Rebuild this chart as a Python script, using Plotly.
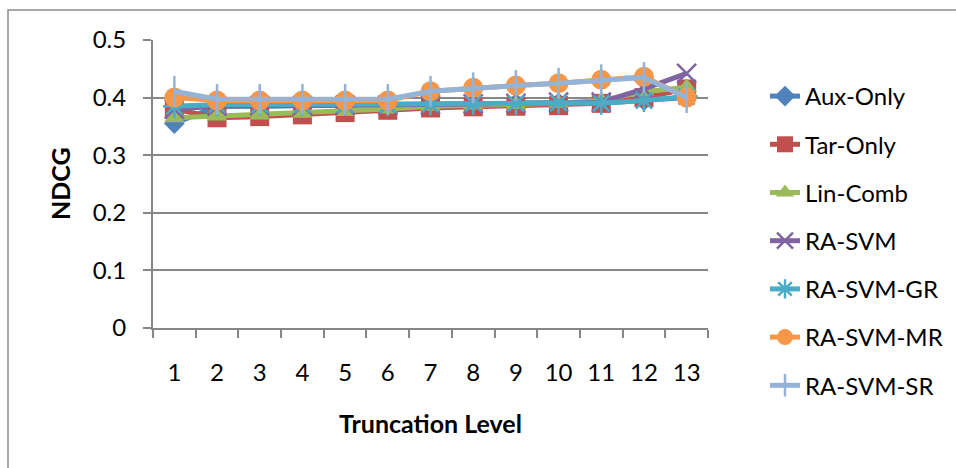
import plotly.graph_objects as go

levels = [str(i) for i in range(1, 14)]
aux_only = [0.355, 0.385, 0.385, 0.386, 0.386, 0.387, 0.388, 0.389, 0.390, 0.391, 0.390, 0.395, 0.400]
tar_only = [0.380, 0.365, 0.367, 0.370, 0.374, 0.378, 0.382, 0.384, 0.385, 0.386, 0.390, 0.400, 0.415]
lin_comb = [0.365, 0.368, 0.370, 0.373, 0.376, 0.380, 0.385, 0.387, 0.388, 0.390, 0.395, 0.410, 0.418]
ra_svm = [0.380, 0.385, 0.386, 0.386, 0.387, 0.387, 0.388, 0.389, 0.390, 0.392, 0.392, 0.415, 0.442]
ra_svm_gr = [0.385, 0.388, 0.388, 0.388, 0.388, 0.388, 0.389, 0.390, 0.390, 0.391, 0.390, 0.395, 0.402]
ra_svm_mr = [0.400, 0.395, 0.395, 0.395, 0.395, 0.395, 0.411, 0.417, 0.421, 0.425, 0.431, 0.436, 0.400]
ra_svm_sr = [0.411, 0.397, 0.397, 0.397, 0.397, 0.397, 0.411, 0.417, 0.421, 0.425, 0.431, 0.435, 0.400]

series = [
    ("Aux-Only", aux_only, "#4F81BD", "diamond", 16),
    ("Tar-Only", tar_only, "#C0504D", "square", 19),
    ("Lin-Comb", lin_comb, "#9BBB59", "triangle-up", 18),
    ("RA-SVM", ra_svm, "#8064A2", "x-thin", 19),
    ("RA-SVM-GR", ra_svm_gr, "#4BACC6", "asterisk", 19),
    ("RA-SVM-MR", ra_svm_mr, "#F79646", "circle", 20),
    ("RA-SVM-SR", ra_svm_sr, "#95B3D7", "line-ns", 22),
]

FONT = "Lato"
fig = go.Figure()
for i, (name, vals, color, sym, size) in enumerate(series):
    thin = sym in ("x-thin", "asterisk", "line-ns")
    fig.add_trace(go.Scatter(
        x=levels, y=vals, name=name, mode="lines+markers",
        legendgroup=f"g{i}",
        line=dict(color=color, width=5),
        marker=dict(symbol=sym, size=size, color=color,
                    line=dict(color=color, width=2.5 if thin else 0)),
    ))

L, R, T, B = 153, 248, 40, 140
W, H = 956, 468
pw, ph = W - L - R, H - T - B

fig.update_layout(
    width=W, height=H,
    margin=dict(l=L, r=R, t=T, b=B, autoexpand=False),
    paper_bgcolor="white", plot_bgcolor="white",
    font=dict(family=FONT, size=24, color="black"),
    showlegend=True,
    legend=dict(x=(765 - L) / pw, xanchor="left", y=1 - (74 - T) / ph, yanchor="top",
                font=dict(size=24), tracegroupgap=14, itemwidth=30,
                maxheight=460, bgcolor="rgba(0,0,0,0)"),
    xaxis=dict(type="category", range=[-0.5, 12.5], tickson="boundaries",
               ticks="outside", ticklen=8,
               tickwidth=1.5, tickcolor="#878787", showline=True, linecolor="#878787",
               linewidth=2, showgrid=False, ticklabelstandoff=22,
               tickfont=dict(size=24)),
    yaxis=dict(range=[0, 0.5], tickvals=[0, 0.1, 0.2, 0.3, 0.4, 0.5],
               ticktext=["0", "0.1", "0.2", "0.3", "0.4", "0.5"],
               ticks="outside", ticklen=8, tickwidth=1.5, tickcolor="#878787",
               showline=True, linecolor="#878787", linewidth=2,
               showgrid=True, gridcolor="#878787", gridwidth=1.5,
               ticklabelstandoff=12, zeroline=False, tickfont=dict(size=24)),
    annotations=[
        dict(text="<b>Truncation Level</b>", xref="paper", yref="paper", x=0.5,
             y=-(423 - T - ph) / ph, xanchor="center", yanchor="middle",
             showarrow=False, font=dict(size=25)),
        dict(text="<b>NDCG</b>", xref="paper", yref="paper", x=(60 - L) / pw,
             y=1 - (184 - T) / ph, xanchor="center", yanchor="middle",
             textangle=-90, showarrow=False, font=dict(size=25)),
    ],
    shapes=[
        dict(type="rect", xref="paper", yref="paper",
             x0=(8 - L) / pw, x1=(1000 - L) / pw,
             y0=1 - (520 - T) / ph, y1=1 + (T - 10) / ph,
             line=dict(color="#8C8C8C", width=1.5), fillcolor="rgba(0,0,0,0)",
             layer="below"),
    ],
)

fig.write_html("out.html")
